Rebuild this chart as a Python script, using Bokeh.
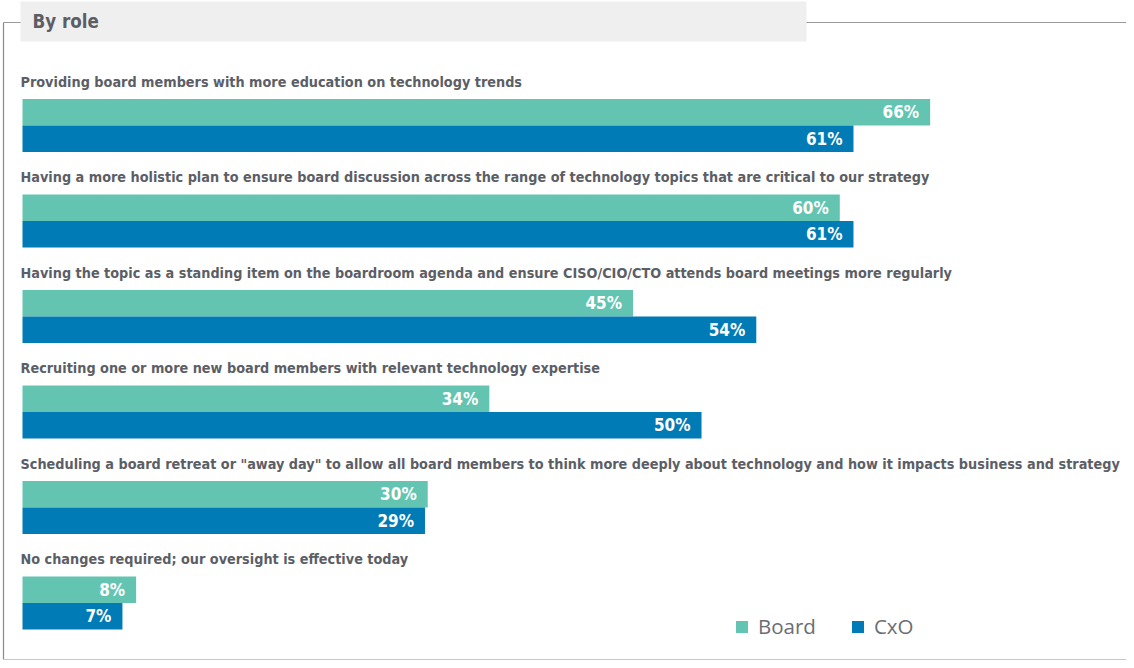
from bokeh.plotting import figure
from bokeh.models import ColumnDataSource, Range1d, Legend, LegendItem
from bokeh.core.properties import value
from bokeh.embed import file_html
from bokeh.resources import INLINE

# ---- data (bar lengths; labels show rounded values) ----
categories = [
    "Providing board members with more education on technology trends",
    "Having a more holistic plan to ensure board discussion across the range of technology topics that are critical to our strategy",
    "Having the topic as a standing item on the boardroom agenda and ensure CISO/CIO/CTO attends board meetings more regularly",
    "Recruiting one or more new board members with relevant technology expertise",
    "Scheduling a board retreat or \"away day\" to allow all board members to think more deeply about technology and how it impacts business and strategy",
    "No changes required; our oversight is effective today",
]
board = [66.3, 59.7, 44.6, 34.1, 29.6, 8.3]
cxo = [60.7, 60.7, 53.6, 49.6, 29.4, 7.3]
series_names = ["Board", "CxO"]
title_text = "By role"

# ---- styling ----
W, H = 1126, 660
TEAL = "#63c5b1"
BLUE = "#007bb5"
GREY_TXT = "#5c5e66"
COND = value("'Liberation Sans Narrow', 'DejaVu Sans Condensed', 'Roboto Condensed', sans-serif")

x0_px = 22.0          # pixel where value 0 sits
x_scale = 13.69       # px per percent
y_unit = 95.5         # px per group
y0_px = 125.0         # pixel of first group's centre line

xs = -x0_px / x_scale
xe = xs + W / x_scale
ys_top = -y0_px / y_unit
ys_bot = ys_top + H / y_unit

def X(px):
    return xs + px / x_scale

def Y(py):
    return ys_top + py / y_unit

p = figure(width=W, height=H, output_backend="svg", toolbar_location=None,
           x_range=Range1d(xs, xe), y_range=Range1d(ys_bot, ys_top),
           x_axis_type=None, y_axis_type=None, min_border=0,
           min_border_left=0, min_border_right=0, min_border_top=0, min_border_bottom=0)
p.outline_line_color = None
p.xgrid.visible = False
p.ygrid.visible = False
p.background_fill_color = "white"
p.border_fill_color = "white"

# frame decoration
p.line([X(3), X(3)], [Y(22), Y(659)], line_color="#8a8a8a", line_width=1.2)
p.line([X(3), X(W)], [Y(22), Y(22)], line_color="#999999", line_width=1.2)
p.line([X(3), X(W)], [Y(659), Y(659)], line_color="#c8c8c8", line_width=1.2)
p.quad(left=[X(20)], right=[X(806)], top=[Y(1)], bottom=[Y(41)],
       fill_color="#efefef", line_color=None)
p.text(x=[X(32)], y=[Y(21)], text=[title_text], text_font=COND,
       text_font_style="bold", text_font_size="18.6px", text_color=GREY_TXT,
       text_baseline="middle", text_align="left")

bh = 26.5 / y_unit
idx = list(range(len(categories)))
src = ColumnDataSource(dict(
    cat=categories,
    board=board,
    cxo=cxo,
    yb=[i - bh / 2 for i in idx],
    yc=[i + bh / 2 for i in idx],
    ylab=[i - 44 / y_unit for i in idx],
    zero=[0] * len(idx),
    blab=[f"{round(v)}%" for v in board],
    clab=[f"{round(v)}%" for v in cxo],
))

rb = p.hbar(y="yb", left=0, right="board", height=bh, source=src,
            fill_color=TEAL, line_color=None)
rc = p.hbar(y="yc", left=0, right="cxo", height=bh, source=src,
            fill_color=BLUE, line_color=None)

p.text(x="zero", y="ylab", text="cat", source=src, x_offset=-2,
       text_font=COND, text_font_style="bold", text_font_size="14.3px",
       text_color=GREY_TXT, text_baseline="middle", text_align="left")
p.text(x="board", y="yb", text="blab", source=src, x_offset=-11,
       text_font=COND, text_font_style="bold", text_font_size="17px",
       text_color="white", text_baseline="middle", text_align="right")
p.text(x="cxo", y="yc", text="clab", source=src, x_offset=-11,
       text_font=COND, text_font_style="bold", text_font_size="17px",
       text_color="white", text_baseline="middle", text_align="right")

legend = Legend(items=[LegendItem(label=series_names[0], renderers=[rb]),
                       LegendItem(label=series_names[1], renderers=[rc])],
                orientation="horizontal", location=(734, 20),
                glyph_width=15, glyph_height=15, label_standoff=9, spacing=34,
                padding=0, margin=0, border_line_color=None,
                background_fill_alpha=0,
                label_text_font="Open Sans", label_text_font_size="20.5px",
                label_text_color="#6b6d74")
p.add_layout(legend, "center")

open("out.html", "w").write(file_html(p, INLINE))
